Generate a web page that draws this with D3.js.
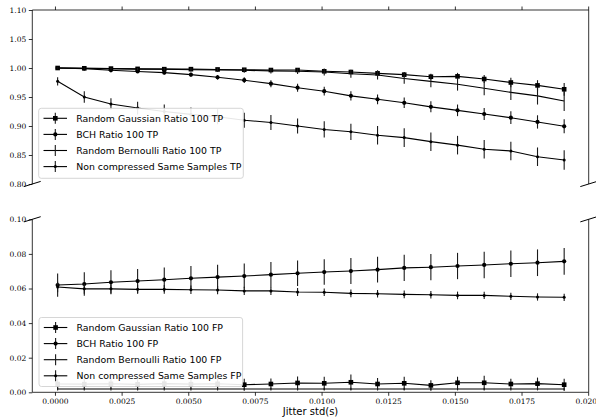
<!DOCTYPE html>
<html>
<head>
<meta charset="utf-8">
<script src="https://cdn.jsdelivr.net/npm/d3@7"></script>
<style>
  html, body { margin: 0; padding: 0; background: #fff; }
  svg { display: block; }
</style>
</head>
<body>
<svg id="chart" width="596" height="419"></svg>
<script>
// ---------------- DATA ----------------
const jitter = [0.0001, 0.0011, 0.0021, 0.0031, 0.0041, 0.0051, 0.0061, 0.0071, 0.0081, 0.0091,
                0.0101, 0.0111, 0.0121, 0.0131, 0.0141, 0.0151, 0.0161, 0.0171, 0.0181, 0.0191];

// True positives (upper panel)
const tpGaussian    = [1.000, 0.9995, 0.999, 0.9985, 0.998, 0.998, 0.9975, 0.997, 0.9965, 0.9965,
                       0.9943, 0.9931, 0.9908, 0.9885, 0.985, 0.9856, 0.981, 0.975, 0.970, 0.9633];
const tpGaussianErr = [0.001, 0.001, 0.001, 0.0012, 0.0013, 0.0015, 0.0018, 0.002, 0.0022, 0.0025,
                       0.003, 0.0035, 0.004, 0.0045, 0.005, 0.006, 0.007, 0.008, 0.009, 0.011];
const tpBCH         = [1.000, 0.999, 0.996, 0.994, 0.992, 0.9885, 0.984, 0.979, 0.973, 0.966,
                       0.960, 0.952, 0.946, 0.940, 0.933, 0.927, 0.9207, 0.9143, 0.907, 0.8995];
const tpBCHErr      = [0.001, 0.0015, 0.002, 0.0025, 0.003, 0.0035, 0.004, 0.005, 0.006, 0.007,
                       0.0075, 0.008, 0.0085, 0.009, 0.0095, 0.010, 0.0105, 0.011, 0.0115, 0.012];
const tpBernoulli   = [1.000, 0.9995, 0.999, 0.998, 0.998, 0.997, 0.9965, 0.996, 0.995, 0.9945,
                       0.993, 0.990, 0.988, 0.982, 0.977, 0.972, 0.965, 0.958, 0.952, 0.943];
const tpBernoulliErr= [0.001, 0.001, 0.0015, 0.002, 0.0025, 0.003, 0.0035, 0.004, 0.0045, 0.005,
                       0.006, 0.007, 0.008, 0.009, 0.010, 0.011, 0.012, 0.013, 0.015, 0.017];
const tpNonComp     = [0.977, 0.950, 0.938, 0.931, 0.925, 0.920, 0.916, 0.910, 0.906, 0.900,
                       0.894, 0.890, 0.884, 0.880, 0.873, 0.867, 0.860, 0.857, 0.847, 0.8414];
const tpNonCompErr  = [0.007, 0.010, 0.010, 0.011, 0.012, 0.012, 0.013, 0.013, 0.013, 0.013,
                       0.014, 0.014, 0.016, 0.016, 0.016, 0.016, 0.016, 0.016, 0.016, 0.017];

// False positives (lower panel)
const fpGaussian    = [0.0048, 0.0047, 0.0049, 0.0046, 0.0050, 0.0047, 0.0049, 0.0044, 0.0048, 0.0054,
                       0.0052, 0.0058, 0.0048, 0.0052, 0.0040, 0.0055, 0.0055, 0.0048, 0.0050, 0.0044];
const fpGaussianErr = [0.003, 0.003, 0.003, 0.003, 0.003, 0.003, 0.003, 0.0034, 0.0032, 0.0038,
                       0.0038, 0.0045, 0.0035, 0.0038, 0.003, 0.0035, 0.004, 0.003, 0.0035, 0.0035];
const fpBCH         = [0.0620, 0.0626, 0.0636, 0.0643, 0.0651, 0.0659, 0.0666, 0.0672, 0.0680, 0.0688,
                       0.0695, 0.0701, 0.0709, 0.0719, 0.0723, 0.0730, 0.0736, 0.0743, 0.0749, 0.0757];
const fpBCHErr      = [0.0067, 0.0068, 0.0069, 0.0070, 0.0071, 0.0071, 0.0072, 0.0072, 0.0073, 0.0074,
                       0.0074, 0.0075, 0.0075, 0.0076, 0.0076, 0.0076, 0.0077, 0.0077, 0.0077, 0.0077];
const fpBernoulli   = [0.0019, 0.0019, 0.0019, 0.0019, 0.0019, 0.0019, 0.0019, 0.0019, 0.0019, 0.0019,
                       0.0019, 0.0019, 0.0019, 0.0019, 0.0019, 0.0019, 0.0019, 0.0019, 0.0019, 0.0019];
const fpBernoulliErr= [0.0008, 0.0008, 0.0008, 0.0008, 0.0008, 0.0008, 0.0008, 0.0008, 0.0008, 0.0008,
                       0.0008, 0.0008, 0.0008, 0.0008, 0.0008, 0.0008, 0.0008, 0.0008, 0.0008, 0.0008];
const fpNonComp     = [0.0609, 0.0598, 0.0598, 0.0595, 0.0595, 0.0593, 0.0591, 0.0586, 0.0586, 0.0580,
                       0.0578, 0.0572, 0.0570, 0.0566, 0.0564, 0.0560, 0.0560, 0.0555, 0.0551, 0.0549];
const fpNonCompErr  = [0.003, 0.0028, 0.0027, 0.0026, 0.0025, 0.0025, 0.0024, 0.0024, 0.0023, 0.0023,
                       0.0022, 0.0022, 0.0022, 0.0022, 0.0022, 0.0022, 0.0021, 0.0021, 0.0021, 0.0021];

const xTicks = [0.0000, 0.0025, 0.0050, 0.0075, 0.0100, 0.0125, 0.0150, 0.0175, 0.0200];
const yTopTicks = [0.80, 0.85, 0.90, 0.95, 1.00, 1.05, 1.10];
const yBotTicks = [0.00, 0.02, 0.04, 0.06, 0.08, 0.10];

const tpLabels = ["Random Gaussian Ratio 100 TP", "BCH Ratio 100 TP",
                  "Random Bernoulli Ratio 100 TP", "Non compressed Same Samples TP"];
const fpLabels = ["Random Gaussian Ratio 100 FP", "BCH Ratio 100 FP",
                  "Random Bernoulli Ratio 100 FP", "Non compressed Same Samples FP"];
const markers = ["square", "circle", "none", "dot"];
const xLabel = "Jitter std(s)";

// ---------------- LAYOUT ----------------
const L = 32.3, R = 588.7;
const topPanel = {y0: 10, y1: 184};
const botPanel = {y0: 219.3, y1: 392.3};
const tickFont = "'DejaVu Serif', serif";
const textFont = "'DejaVu Sans', sans-serif";

const svg = d3.select("#chart");
const x = d3.scaleLinear().domain([-0.00085, 0.02002]).range([L, R]);
const yTop = d3.scaleLinear().domain([0.80, 1.10]).range([topPanel.y1, topPanel.y0]);
const yBot = d3.scaleLinear().domain([0.00, 0.10]).range([botPanel.y1, botPanel.y0]);

function styleAxis(g) {
  g.selectAll(".domain").remove();
  g.selectAll(".tick line").attr("stroke", "#000").attr("stroke-width", 0.8);
  g.selectAll(".tick text").attr("font-family", tickFont).attr("font-size", 7.5).attr("fill", "#000");
}

// ---- top panel axes
const gTop = svg.append("g");
gTop.append("g").attr("transform", `translate(${L},0)`)
  .call(d3.axisLeft(yTop).tickValues(yTopTicks).tickFormat(d3.format(".2f")).tickSize(3.5).tickPadding(2.5))
  .call(styleAxis);
gTop.append("g").attr("transform", `translate(0,${topPanel.y0})`)
  .call(d3.axisTop(x).tickValues(xTicks).tickFormat("").tickSize(3.5))
  .call(styleAxis);
gTop.append("path").attr("d", `M${L},${topPanel.y1}V${topPanel.y0}H${R}V${topPanel.y1}`)
  .attr("fill", "none").attr("stroke", "#000").attr("stroke-width", 0.8);

// ---- bottom panel axes
const gBot = svg.append("g");
gBot.append("g").attr("transform", `translate(${L},0)`)
  .call(d3.axisLeft(yBot).tickValues(yBotTicks).tickFormat(d3.format(".2f")).tickSize(3.5).tickPadding(2.5))
  .call(styleAxis);
gBot.append("g").attr("transform", `translate(0,${botPanel.y1})`)
  .call(d3.axisBottom(x).tickValues(xTicks).tickFormat(d3.format(".4f")).tickSize(3.5).tickPadding(2.5))
  .call(styleAxis);
gBot.append("path").attr("d", `M${L},${botPanel.y0}V${botPanel.y1}H${R}V${botPanel.y0}`)
  .attr("fill", "none").attr("stroke", "#000").attr("stroke-width", 0.8);

// ---- break marks
const dx = 8.4, dy = 2.6;
[[L, topPanel.y1], [R, topPanel.y1], [L, botPanel.y0], [R, botPanel.y0]].forEach(([cx, cy]) => {
  svg.append("line").attr("x1", cx - dx).attr("y1", cy + dy).attr("x2", cx + dx).attr("y2", cy - dy)
    .attr("stroke", "#000").attr("stroke-width", 1);
});

// ---- series drawing
function drawMarker(g, type, cx, cy) {
  if (type === "square") {
    g.append("rect").attr("x", cx - 2.3).attr("y", cy - 2.3).attr("width", 4.6).attr("height", 4.6).attr("fill", "#000");
  } else if (type === "circle") {
    g.append("circle").attr("cx", cx).attr("cy", cy).attr("r", 2.1).attr("fill", "#000");
  } else if (type === "dot") {
    g.append("circle").attr("cx", cx).attr("cy", cy).attr("r", 1.5).attr("fill", "#000");
  }
}

function drawSeries(g, y, vals, errs, marker) {
  const line = d3.line().x((d, i) => x(jitter[i])).y(d => y(d));
  g.append("path").datum(vals).attr("d", line).attr("fill", "none")
    .attr("stroke", "#000").attr("stroke-width", 1.1);
  vals.forEach((v, i) => {
    g.append("line").attr("x1", x(jitter[i])).attr("x2", x(jitter[i]))
      .attr("y1", y(v - errs[i])).attr("y2", y(v + errs[i]))
      .attr("stroke", "#1a1a1a").attr("stroke-width", 1.1);
  });
  vals.forEach((v, i) => drawMarker(g, marker, x(jitter[i]), y(v)));
}

const sTop = svg.append("g");
drawSeries(sTop, yTop, tpGaussian, tpGaussianErr, markers[0]);
drawSeries(sTop, yTop, tpBCH, tpBCHErr, markers[1]);
drawSeries(sTop, yTop, tpBernoulli, tpBernoulliErr, markers[2]);
drawSeries(sTop, yTop, tpNonComp, tpNonCompErr, markers[3]);

const sBot = svg.append("g");
drawSeries(sBot, yBot, fpGaussian, fpGaussianErr, markers[0]);
drawSeries(sBot, yBot, fpBCH, fpBCHErr, markers[1]);
drawSeries(sBot, yBot, fpBernoulli, fpBernoulliErr, markers[2]);
drawSeries(sBot, yBot, fpNonComp, fpNonCompErr, markers[3]);

// ---- legend font size fitted so the first label is ~148px wide (as in the reference)
const probe = svg.append("text").attr("font-family", textFont).attr("font-size", 10).text(tpLabels[0]);
const w10 = probe.node().getComputedTextLength();
probe.remove();
const legendFontSize = w10 > 0 ? Math.min(10.5, Math.max(8.5, 10 * 147 / w10)) : 9.8;

function drawLegend(bx, by, bw, bh, labels) {
  const g = svg.append("g").attr("transform", `translate(${bx},${by})`);
  g.append("rect").attr("width", bw).attr("height", bh).attr("rx", 2.5)
    .attr("fill", "#fff").attr("fill-opacity", 0.9).attr("stroke", "#cccccc").attr("stroke-width", 0.8);
  const rows = [10, 26.1, 42.2, 58.3];
  labels.forEach((lab, i) => {
    const cy = rows[i];
    g.append("line").attr("x1", 4.8).attr("x2", 28.3).attr("y1", cy).attr("y2", cy)
      .attr("stroke", "#000").attr("stroke-width", 1.1);
    g.append("line").attr("x1", 16.6).attr("x2", 16.6).attr("y1", cy - 5.5).attr("y2", cy + 5.5)
      .attr("stroke", "#1a1a1a").attr("stroke-width", 1.1);
    drawMarker(g, markers[i], 16.6, cy);
    g.append("text").attr("x", 37.5).attr("y", cy + 3.5).text(lab)
      .attr("font-family", textFont).attr("font-size", legendFontSize).attr("fill", "#000");
  });
}
drawLegend(38.7, 108.3, 204.6, 70, tpLabels);
drawLegend(39, 317.5, 203.6, 69, fpLabels);

// ---- x label
svg.append("text").attr("x", (L + R) / 2).attr("y", 414.5).attr("text-anchor", "middle")
  .attr("font-family", textFont).attr("font-size", 10).attr("fill", "#000").text(xLabel);
</script>
</body>
</html>
